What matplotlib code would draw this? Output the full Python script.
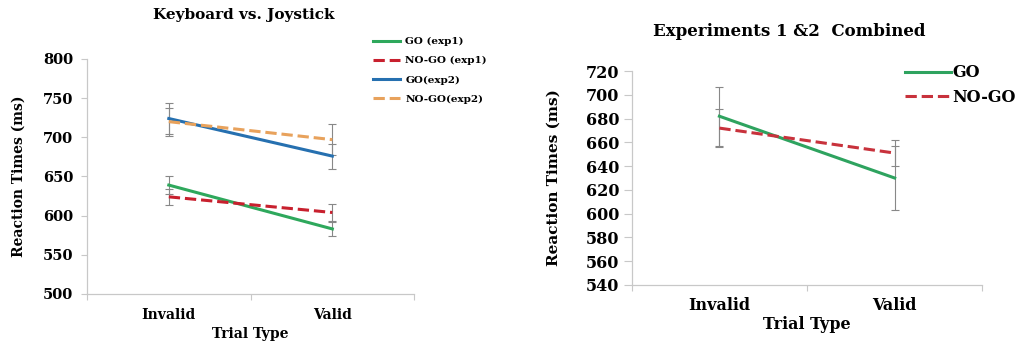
import matplotlib
matplotlib.use("Agg")
import matplotlib.pyplot as plt
from matplotlib.lines import Line2D
import numpy as np

plt.rcParams['font.family'] = ['DejaVu Serif']
plt.rcParams['font.weight'] = 'bold'

categories = ["Invalid", "Valid"]

# Left panel: Keyboard vs. Joystick
left_series = ["GO (exp1)", "NO-GO (exp1)", "GO(exp2)", "NO-GO(exp2)"]
left_means = {
    "GO (exp1)": [639, 583],
    "NO-GO (exp1)": [624, 604],
    "GO(exp2)": [724, 676],
    "NO-GO(exp2)": [720, 697],
}
left_errs = {
    "GO (exp1)": [11, 9],
    "NO-GO (exp1)": [10, 11],
    "GO(exp2)": [20, 16],
    "NO-GO(exp2)": [18, 20],
}
left_colors = {"GO (exp1)": "#2ea85c", "NO-GO (exp1)": "#c8202e",
               "GO(exp2)": "#2670b0", "NO-GO(exp2)": "#e8a25c"}
left_styles = {"GO (exp1)": "-", "NO-GO (exp1)": "--",
               "GO(exp2)": "-", "NO-GO(exp2)": "--"}
left_yticks = [500, 550, 600, 650, 700, 750, 800]

# Right panel: Experiments 1 & 2 Combined
right_series = ["GO", "NO-GO"]
right_means = {"GO": [682, 630], "NO-GO": [672, 651]}
right_errs = {"GO": [25, 27], "NO-GO": [16, 11]}
right_colors = {"GO": "#2ea35f", "NO-GO": "#c8323c"}
right_styles = {"GO": "-", "NO-GO": "--"}
right_yticks = list(range(540, 721, 20))

fig = plt.figure(figsize=(10.19, 3.45), dpi=100)
grey = "#c8c8c8"

def style_axes(ax, yticks, yfs, xfs, ypad, ylen, xpad, xlabpad):
    for s in ["top", "right"]:
        ax.spines[s].set_visible(False)
    for s in ["left", "bottom"]:
        ax.spines[s].set_color(grey)
        ax.spines[s].set_linewidth(0.9)
    ax.set_xlim(0, 2)
    ax.set_ylim(yticks[0], yticks[-1])
    ax.set_yticks(yticks)
    ax.set_xticks([0, 1, 2])
    ax.set_xticklabels([])
    ax.set_xticks([0.5, 1.5], minor=True)
    ax.set_xticklabels(categories, minor=True, fontsize=xfs, fontweight='bold')
    ax.tick_params(axis='x', which='minor', length=0, pad=xpad)
    ax.tick_params(axis='x', which='major', length=4, color=grey)
    ax.tick_params(axis='y', length=ylen, color=grey, labelsize=yfs, pad=ypad)
    ax.set_xlabel("Trial Type", fontsize=xfs, fontweight='bold', labelpad=xlabpad)

xpos = np.array([0.5, 1.5])

# Left
ax1 = fig.add_axes([0.0854, 0.148, 0.321, 0.681])
for name in left_series:
    ax1.errorbar(xpos, left_means[name], yerr=left_errs[name], color=left_colors[name],
                 ls=left_styles[name], lw=2.2, ecolor="#888888", elinewidth=0.8,
                 capsize=3, capthick=0.8, label=name)
style_axes(ax1, left_yticks, 10.5, 10, 6, 4, 10, 4)
ax1.set_ylabel("Reaction Times (ms)", fontsize=10, fontweight='bold', labelpad=12)
ax1.set_title("Keyboard vs. Joystick", fontsize=11, fontweight='bold', x=0.48, y=1.17, pad=0)
hl = [Line2D([], [], color=left_colors[n], ls=left_styles[n], lw=2.2) for n in left_series]
fig.legend(hl, left_series, loc='upper left', bbox_to_anchor=(0.357, 0.92), frameon=False,
           handlelength=2.6, handletextpad=0.5, labelspacing=0.95,
           prop={'weight': 'bold', 'size': 7.5})

# Right
ax2 = fig.add_axes([0.620, 0.174, 0.344, 0.620])
for name in right_series:
    ax2.errorbar(xpos, right_means[name], yerr=right_errs[name], color=right_colors[name],
                 ls=right_styles[name], lw=2.2, ecolor="#888888", elinewidth=0.8,
                 capsize=3, capthick=0.8, label=name)
style_axes(ax2, right_yticks, 11.5, 11.5, 3, 6, 9, 1)
ax2.set_ylabel("Reaction Times (ms)", fontsize=11, fontweight='bold', labelpad=18)
ax2.set_title("Experiments 1 &2  Combined", fontsize=12, fontweight='bold', x=0.45, y=1.165, pad=0)
hl2 = [Line2D([], [], color=right_colors[n], ls=right_styles[n], lw=2.2) for n in right_series]
fig.legend(hl2, right_series, loc='upper left', bbox_to_anchor=(0.874, 0.855), frameon=False,
           handlelength=2.9, handletextpad=0.05, labelspacing=0.45,
           prop={'weight': 'bold', 'size': 11.5})

fig.savefig("out.png", dpi=100)
